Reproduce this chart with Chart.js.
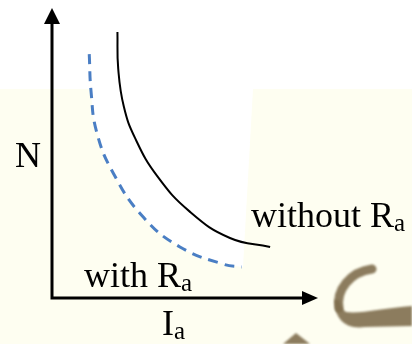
<!DOCTYPE html>
<html>
<head>
<meta charset="utf-8">
<script src="https://cdn.jsdelivr.net/npm/chart.js@4"></script>
<style>
  html, body { margin: 0; padding: 0; background: #ffffff; }
  #wrap { width: 412px; height: 344px; }
</style>
</head>
<body>
<div id="wrap"><canvas id="myChart" width="412" height="344"></canvas></div>
<script>
// armature current (Ia) and speed (N), arbitrary units 0..10
const iaWithout = [2.46, 2.49, 2.70, 3.12, 3.95, 5.19, 6.69, 8.20];
const nWithout  = [9.17, 7.90, 6.60, 5.52, 4.21, 2.97, 2.07, 1.76];
const iaWith = [1.40, 1.47, 1.68, 2.30, 3.43, 4.81, 6.43, 7.13];
const nWith  = [8.41, 7.10, 5.72, 4.31, 2.79, 1.76, 1.17, 1.07];
const seriesNames = ['without', 'with'];
const axisNames = ['I', 'N'];

function toPoints(xs, ys) {
  return xs.map((x, i) => ({x: x, y: ys[i]}));
}

const serif = '"Liberation Serif", "Times New Roman", serif';

// text with a subscript "a"
function drawSub(ctx, main, sub, x, y) {
  ctx.font = '36px ' + serif;
  ctx.fillText(main, x, y);
  const w = ctx.measureText(main).width;
  ctx.font = '25px ' + serif;
  ctx.fillText(sub, x + w, y + 4);
}

// paper background behind the plot
const backdrop = {
  id: 'backdrop',
  beforeDraw(chart) {
    const ctx = chart.ctx;
    const W = chart.width, H = chart.height;
    ctx.save();
    ctx.fillStyle = '#fefef1';
    ctx.fillRect(0, 0, W, H);
    ctx.fillStyle = '#ffffff';
    ctx.fillRect(0, 0, W, 89);

    // white patch right of the dashed curve
    const pts = chart.getDatasetMeta(1).data;
    ctx.beginPath();
    ctx.moveTo(pts[0].x, 89);
    ctx.lineTo(pts[0].x, pts[0].y);
    for (let i = 1; i < pts.length; i++) {
      const p = pts[i - 1], c = pts[i];
      ctx.bezierCurveTo(p.cp2x, p.cp2y, c.cp1x, c.cp1y, c.x, c.y);
    }
    ctx.lineTo(243, pts[pts.length - 1].y);
    ctx.lineTo(253, 89);
    ctx.closePath();
    ctx.fill();

    // brush stroke in the corner
    ctx.filter = 'blur(1.2px)';
    ctx.strokeStyle = 'rgba(128,110,78,0.9)';
    ctx.lineCap = 'round';
    ctx.lineWidth = 9;
    ctx.beginPath();
    ctx.moveTo(372, 269);
    ctx.bezierCurveTo(350, 272, 336, 290, 339, 308);
    ctx.stroke();
    ctx.fillStyle = 'rgba(128,110,78,0.9)';
    ctx.beginPath();
    ctx.moveTo(335, 300);
    ctx.bezierCurveTo(334, 318, 345, 330, 365, 327);
    ctx.lineTo(412, 326);
    ctx.lineTo(412, 306);
    ctx.bezierCurveTo(385, 308, 360, 314, 346, 312);
    ctx.bezierCurveTo(341, 308, 340, 304, 339, 300);
    ctx.closePath();
    ctx.fill();
    ctx.beginPath();
    ctx.moveTo(283, 344);
    ctx.lineTo(296, 333);
    ctx.lineTo(310, 344);
    ctx.closePath();
    ctx.fill();
    ctx.restore();
  }
};

// arrowed axes and text labels
const axesAndText = {
  id: 'axesAndText',
  afterDraw(chart) {
    const ctx = chart.ctx;
    const a = chart.chartArea;
    ctx.save();
    ctx.strokeStyle = '#000';
    ctx.fillStyle = '#000';
    ctx.lineWidth = 3;
    ctx.beginPath();
    ctx.moveTo(a.left, a.top + 14);
    ctx.lineTo(a.left, a.bottom);
    ctx.lineTo(a.right - 14, a.bottom);
    ctx.stroke();
    // arrow heads
    ctx.beginPath();
    ctx.moveTo(a.left, a.top);
    ctx.lineTo(a.left - 8, a.top + 16);
    ctx.lineTo(a.left + 8, a.top + 16);
    ctx.closePath();
    ctx.fill();
    ctx.beginPath();
    ctx.moveTo(a.right, a.bottom);
    ctx.lineTo(a.right - 16, a.bottom - 7);
    ctx.lineTo(a.right - 16, a.bottom + 7);
    ctx.closePath();
    ctx.fill();

    ctx.textBaseline = 'alphabetic';
    ctx.textAlign = 'left';
    ctx.font = '36px ' + serif;
    ctx.fillText(axisNames[1], a.left - 37, 167);
    drawSub(ctx, axisNames[0], 'a', a.left + 110, 335);
    drawSub(ctx, seriesNames[0] + ' R', 'a', 251, 227);
    drawSub(ctx, seriesNames[1] + ' R', 'a', 84, 287);
    ctx.restore();
  }
};

const myChart = document.getElementById('myChart');

new Chart(myChart, {
  type: 'scatter',
  data: {
    datasets: [{
      label: seriesNames[0],
      data: toPoints(iaWithout, nWithout),
      showLine: true,
      borderColor: '#000000',
      borderWidth: 2,
      pointRadius: 0,
      tension: 0.45
    }, {
      label: seriesNames[1],
      data: toPoints(iaWith, nWith),
      showLine: true,
      borderColor: '#4a7ec4',
      borderWidth: 3,
      borderDash: [10, 7],
      pointRadius: 0,
      tension: 0.45
    }]
  },
  options: {
    responsive: false,
    animation: false,
    layout: { padding: { left: 52, right: 94, top: 8, bottom: 46 } },
    plugins: { legend: { display: false }, tooltip: { enabled: false } },
    scales: {
      x: { type: 'linear', min: 0, max: 10, display: false },
      y: { type: 'linear', min: 0, max: 10, display: false }
    }
  },
  plugins: [backdrop, axesAndText]
});
</script>
</body>
</html>
